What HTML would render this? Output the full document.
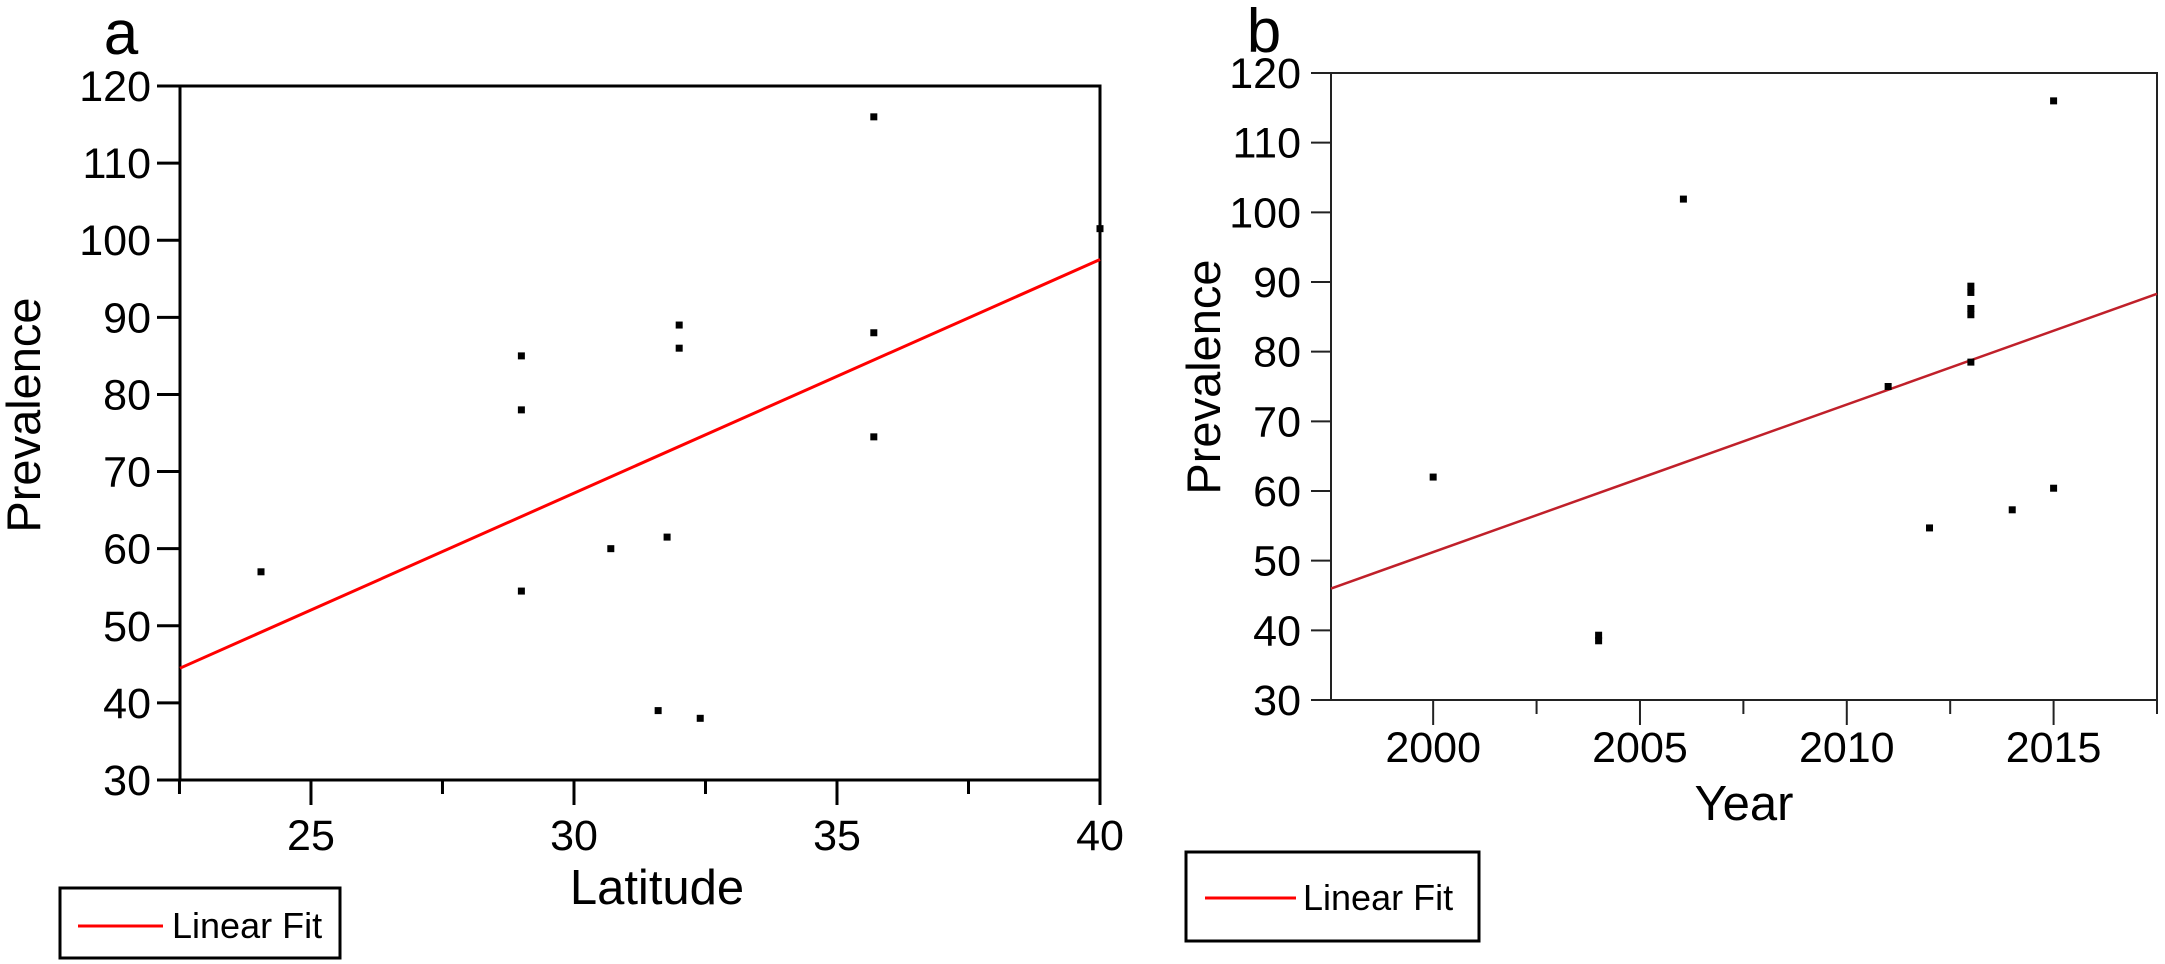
<!DOCTYPE html>
<html><head><meta charset="utf-8"><style>
html,body{margin:0;padding:0;background:#fff;}
svg{display:block;font-family:"Liberation Sans",Arial,sans-serif;}
</style></head><body>
<svg id="chart" width="2165" height="964" viewBox="0 0 2165 964">
<g id="pa"></g>
<g id="pb"></g>
</svg>
<script>
// Panel a data
const latX = [24.05, 29.0, 29.0, 29.0, 30.7, 31.6, 31.77, 32.0, 32.0, 32.4, 35.7, 35.7, 35.7, 40.0];
const latY = [57, 85, 78, 54.5, 60, 39, 61.5, 89, 86, 38, 116, 88, 74.5, 101.5];
const fitAX = [22.51, 40];
const fitAY = [44.5, 97.5];
const aXTicks = [25, 30, 35, 40];
const aXMinor = [22.5, 27.5, 32.5, 37.5];
const yTicks = [30, 40, 50, 60, 70, 80, 90, 100, 110, 120];
// Panel b data
const yrX = [2000, 2004, 2004, 2006.05, 2011, 2012, 2013, 2013, 2013, 2013, 2013, 2014, 2015, 2015];
const yrY = [62, 38.5, 39.3, 101.9, 75, 54.7, 89.4, 88.5, 86.2, 85.3, 78.5, 57.3, 116, 60.4];
const fitBX = [1997.53, 2017.5];
const fitBY = [46, 88.3];
const bXTicks = [2000, 2005, 2010, 2015];
const bXMinor = [2002.5, 2007.5, 2012.5, 2017.5];

const NS = 'http://www.w3.org/2000/svg';
function mk(parent, tag, attrs, text){
  const e = document.createElementNS(NS, tag);
  for (const k in attrs) e.setAttribute(k, attrs[k]);
  if (text !== undefined) e.textContent = text;
  parent.appendChild(e);
  return e;
}

function panel(g, cfg){
  const sx = v => cfg.L + (v - cfg.x0) / (cfg.x1 - cfg.x0) * (cfg.R - cfg.L);
  const sy = v => cfg.B - (v - 30) / (120 - 30) * (cfg.B - cfg.T);
  const fr = mk(g, 'rect', {x: cfg.L, y: cfg.T, width: cfg.R - cfg.L, height: cfg.B - cfg.T, fill: 'none', stroke: cfg.ax, 'stroke-width': cfg.sw});
  
  
  yTicks.forEach(v => {
    const t = mk(g, 'line', {x1: cfg.L - cfg.ytl, x2: cfg.L, y1: sy(v), y2: sy(v), stroke: cfg.ax, 'stroke-width': cfg.sw});
    
    
    const l = mk(g, 'text', {x: cfg.ylx, y: sy(v) + 15, 'text-anchor': 'end', 'font-size': 43, fill: '#000'}, String(v));
    
    
  });
  cfg.xt.forEach(v => {
    const t = mk(g, 'line', {x1: sx(v), x2: sx(v), y1: cfg.B, y2: cfg.B + 25, stroke: cfg.ax, 'stroke-width': cfg.sw});
    
    
    const l = mk(g, 'text', {x: sx(v), y: cfg.xly, 'text-anchor': 'middle', 'font-size': 43, fill: '#000'}, String(v));
    
    
  });
  cfg.xm.forEach(v => {
    const t = mk(g, 'line', {x1: sx(v), x2: sx(v), y1: cfg.B, y2: cfg.B + 14, stroke: cfg.ax, 'stroke-width': cfg.sw});
    
    
  });
  const pts = cfg.fx.map((v, i) => sx(v) + ',' + sy(cfg.fy[i])).join(' ');
  const fl = mk(g, 'polyline', {points: pts, fill: 'none', stroke: cfg.lc, 'stroke-width': cfg.lw});
  
  
  cfg.px.forEach((v, i) => {
    const p = mk(g, 'rect', {x: sx(v) - 3.5, y: sy(cfg.py[i]) - 3.5, width: 7, height: 7, fill: '#000'});
    
    
  });
  const xt = mk(g, 'text', {x: cfg.xtx, y: cfg.xty, 'text-anchor': 'middle', 'font-size': 49, fill: '#000'}, cfg.xTitle);
  
  
  const yt = mk(g, 'text', {x: 0, y: 0, transform: 'translate(' + cfg.ytx + ',' + cfg.yty + ') rotate(-90)', 'text-anchor': 'middle', 'font-size': 47, fill: '#000'}, 'Prevalence');
  
  
  const pl = mk(g, 'text', {x: cfg.lbx, y: cfg.lby, 'text-anchor': 'middle', 'font-size': 62, fill: '#000'}, cfg.label);
  
  
  const lg = mk(g, 'g', {});
  
  
  const lb = mk(lg, 'rect', {x: cfg.lg[0], y: cfg.lg[1], width: cfg.lg[2], height: cfg.lg[3], fill: '#fff', stroke: '#000', 'stroke-width': 3});
  
  
  const ls = mk(lg, 'line', {x1: cfg.lgl[0], x2: cfg.lgl[1], y1: cfg.lgl[2], y2: cfg.lgl[2], stroke: '#f00', 'stroke-width': 3});
  
  
  const lt = mk(lg, 'text', {x: cfg.lgt[0], y: cfg.lgt[1], 'font-size': 36, fill: '#000'}, 'Linear Fit');
  
  
}

panel(document.getElementById('pa'), {
  L: 180, R: 1100, T: 86, B: 780, x0: 22.51, x1: 40, ax: '#000', sw: 3, ytl: 23, ylx: 151, xly: 850,
  xt: aXTicks, xm: aXMinor, fx: fitAX, fy: fitAY, lc: '#f00', lw: 3, px: latX, py: latY,
  xTitle: 'Latitude', xtx: 657, xty: 904, ytx: 40, yty: 415, label: 'a', lbx: 121, lby: 54,
  lg: [60, 888, 280, 70], lgl: [78, 163, 926], lgt: [172, 938]
});
panel(document.getElementById('pb'), {
  L: 1331, R: 2157, T: 73, B: 700, x0: 1997.53, x1: 2017.5, ax: '#222', sw: 2, ytl: 20, ylx: 1301, xly: 762,
  xt: bXTicks, xm: bXMinor, fx: fitBX, fy: fitBY, lc: '#c0202a', lw: 2.5, px: yrX, py: yrY,
  xTitle: 'Year', xtx: 1744, xty: 820, ytx: 1220, yty: 377, label: 'b', lbx: 1264, lby: 52,
  lg: [1186, 852, 293, 89], lgl: [1205, 1296, 898], lgt: [1303, 910]
});
</script>
</body></html>
